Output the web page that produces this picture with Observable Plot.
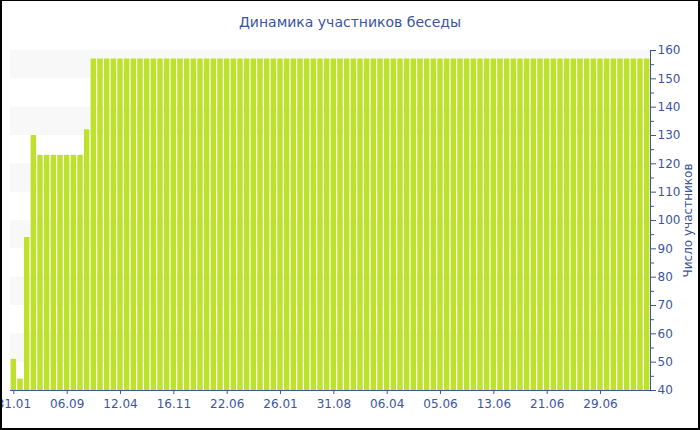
<!DOCTYPE html>
<html><head><meta charset="utf-8">
<script src="https://cdn.jsdelivr.net/npm/d3@7"></script>
<script src="https://cdn.jsdelivr.net/npm/@observablehq/plot@0.6"></script>
<style>
body{margin:0;background:#fff;}
#root{position:relative;width:700px;height:430px;font-family:"DejaVu Sans",sans-serif;}
#chart{position:absolute;left:0;top:0;}
#title{position:absolute;top:14px;left:0;width:700px;text-align:center;font-size:14px;color:#3b55a0;}
#border{position:absolute;left:0;top:0;width:700px;height:430px;box-sizing:border-box;border:2px solid #000;border-top-width:1px;pointer-events:none;}
</style></head>
<body>
<div id="root"><div id="chart"></div><div id="title">Динамика участников беседы</div><div id="border"></div></div>
<script>
const title = "Динамика участников беседы";
const yLabel = "Число участников";
const tickLabels = ["31.01","06.09","12.04","16.11","22.06","26.01","31.08","06.04","05.06","13.06","21.06","29.06"];
const values = [51,44,94,130,123,123,123,123,123,123,123,132,
157,157,157,157,157,157,157,157,157,157,157,157,
157,157,157,157,157,157,157,157,157,157,157,157,
157,157,157,157,157,157,157,157,157,157,157,157,
157,157,157,157,157,157,157,157,157,157,157,157,
157,157,157,157,157,157,157,157,157,157,157,157,
157,157,157,157,157,157,157,157,157,157,157,157,
157,157,157,157,157,157,157,157,157,157,157,157];
const bandStarts = [50,70,90,110,130,150];
const majorTicks = [40,50,60,70,80,90,100,110,120,130,140,150,160];
const minorTicks = [45,55,65,75,85,95,105,115,125,135,145,155];

const blue = "#3b55a0";
const idx = values.map((d,i)=>i);
const chart = Plot.plot({
  width: 700, height: 430,
  marginLeft: 10, marginRight: 50, marginTop: 50, marginBottom: 40,
  style: {fontFamily: "DejaVu Sans, sans-serif", fontSize: "12px", color: blue, background: "transparent"},
  x: {type: "band", domain: idx, paddingInner: 0.18, paddingOuter: 0.09},
  y: {domain: [40,160]},
  marks: [
    Plot.rectY(bandStarts, {y1: d=>d, y2: d=>d+10, fill: "#f8f8f8"}),
    Plot.barY(values, {x: (d,i)=>i, y1: 40, y2: d=>d, fill: "#bee22c"}),
    Plot.ruleY([40], {stroke: blue}),
    Plot.frame({anchor: "right", stroke: blue}),
    Plot.axisX({ticks: tickLabels.map((d,i)=>i*8), tickFormat: i=>tickLabels[i/8], tickSize: 4, stroke: blue, fill: blue, fontSize: 12, label: null, tickPadding: 5}),
    Plot.axisY({anchor: "right", ticks: minorTicks, tickSize: 3, tickFormat: null, stroke: blue, label: null, text: null}),
    Plot.axisY({anchor: "right", ticks: majorTicks, tickSize: 5, stroke: blue, fill: blue, fontSize: 12, tickPadding: 2, label: yLabel, labelAnchor: "center", labelArrow: "none", labelOffset: 41})
  ]
});
document.getElementById("chart").appendChild(chart);
</script>
</body></html>
